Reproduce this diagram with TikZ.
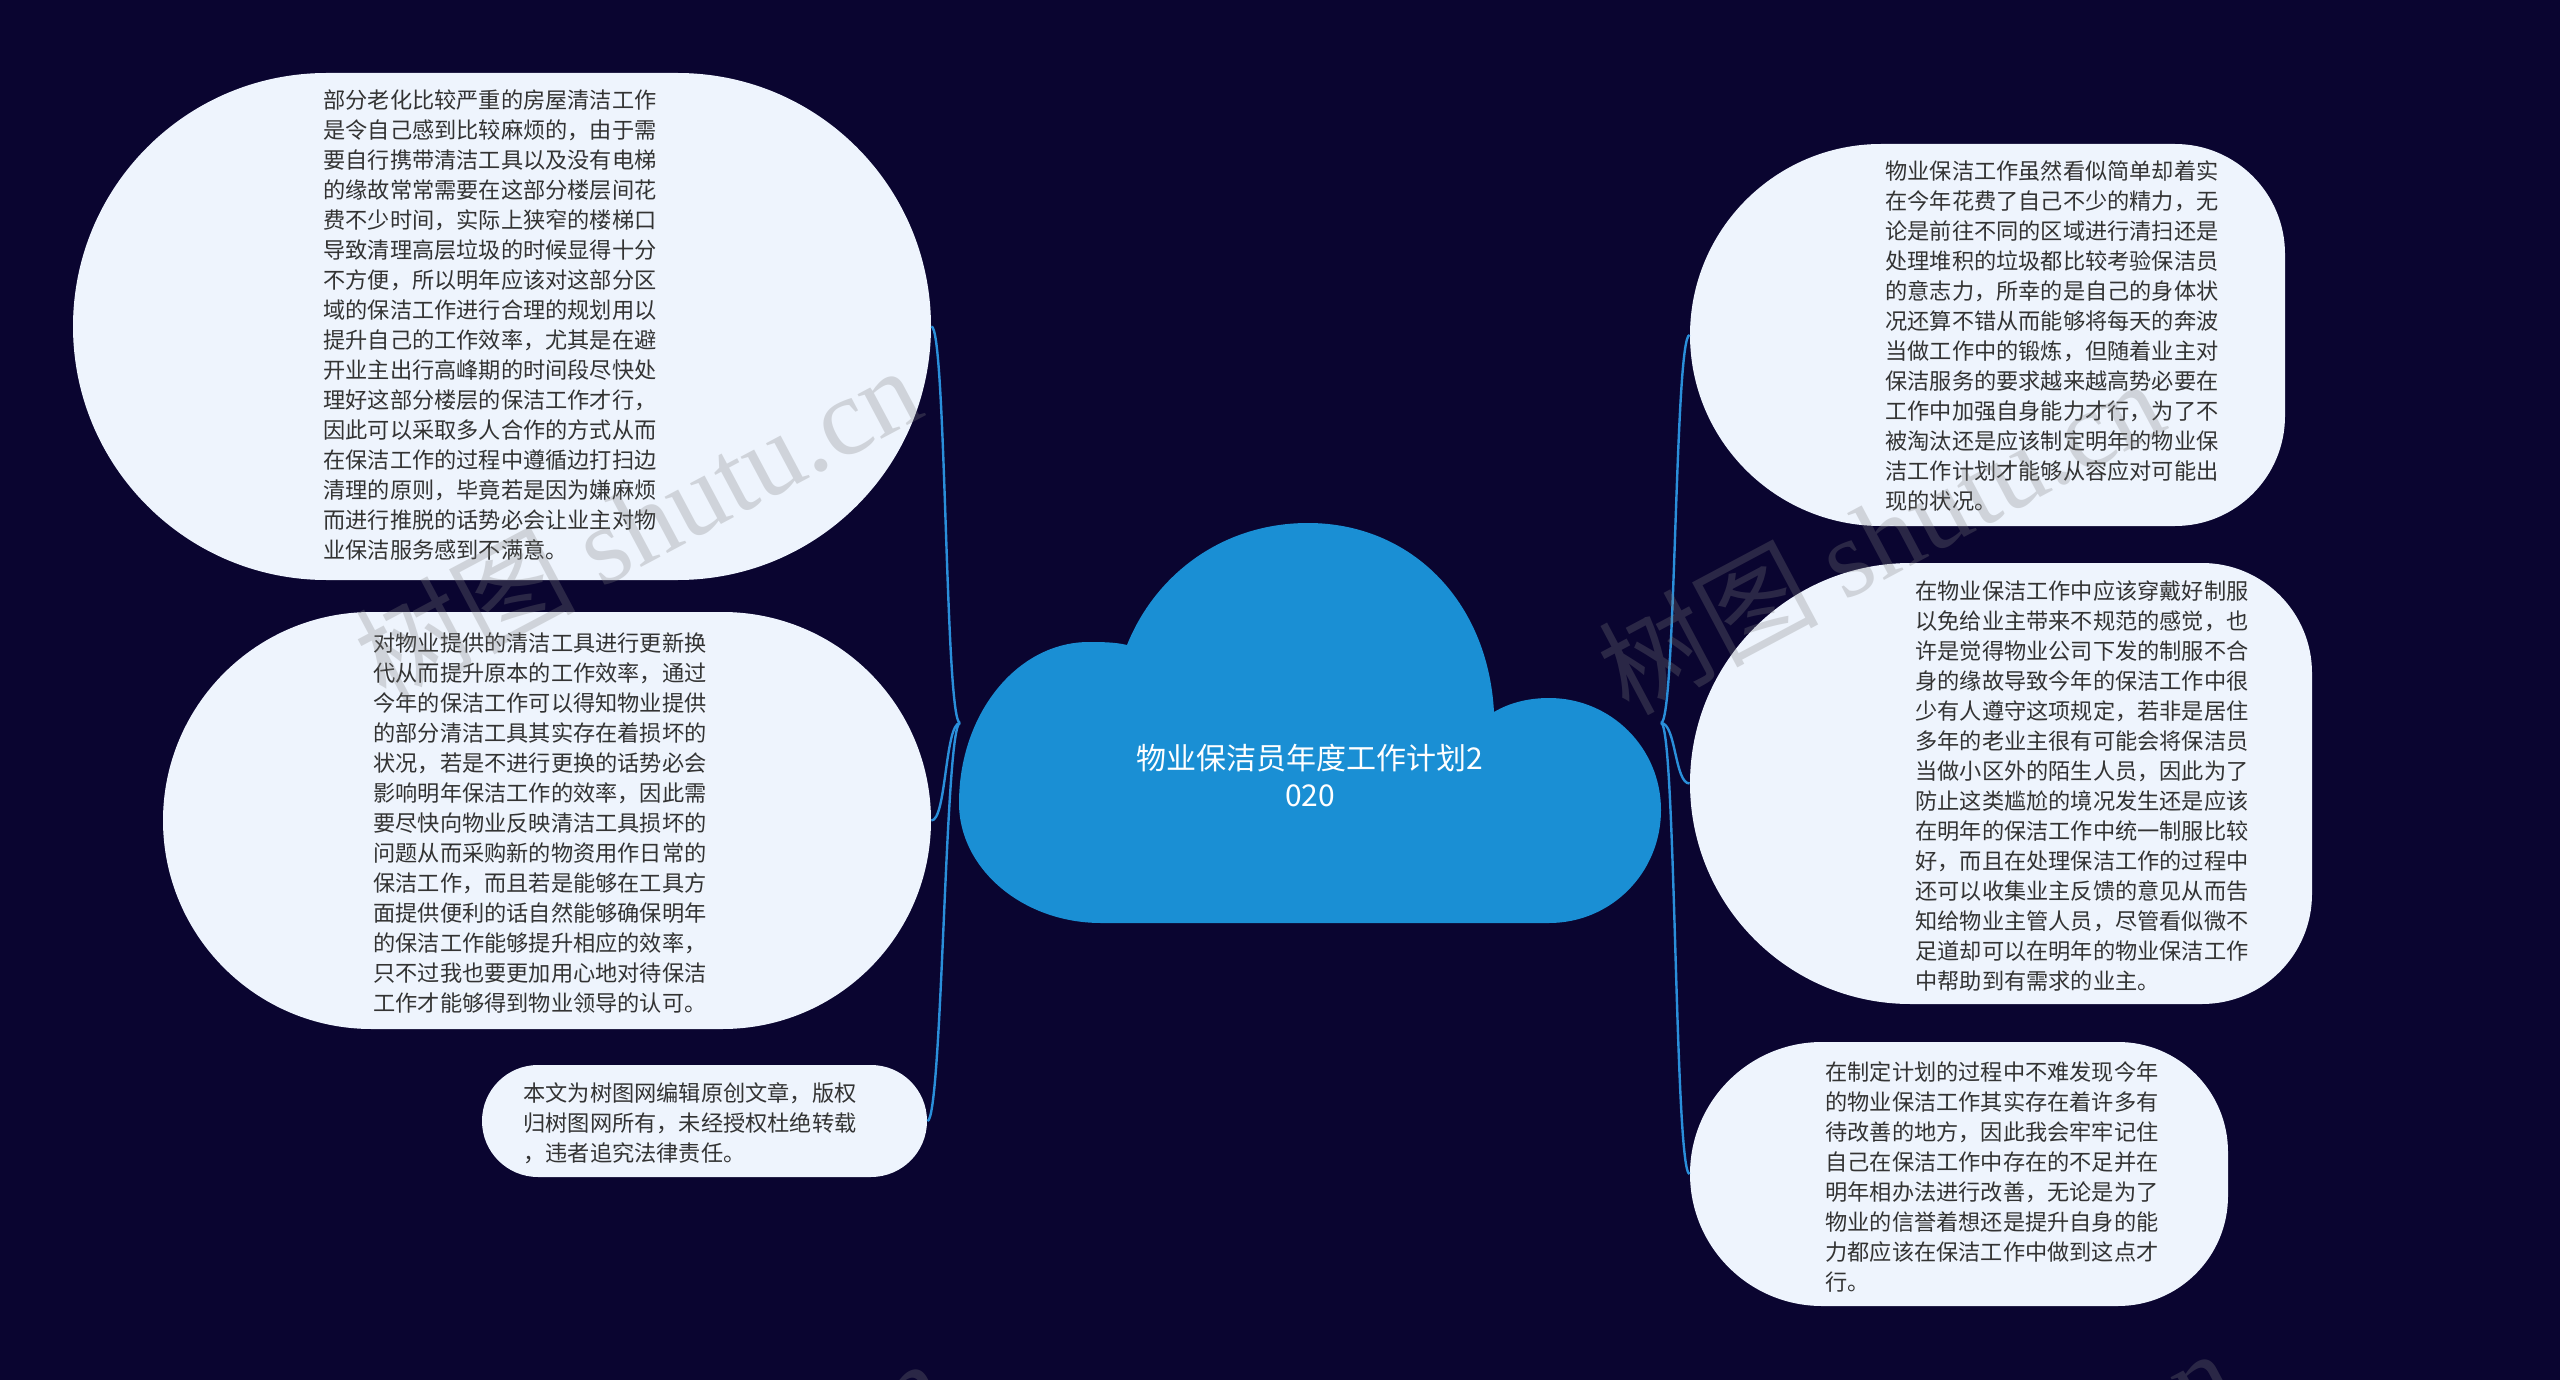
\documentclass[tikz,border=0pt]{standalone}
\usepackage{fontspec}
\setmainfont{Noto Sans CJK SC}
\newfontfamily\markfont{Liberation Serif}
\usepackage{tikz}
\usetikzlibrary{shapes.misc}
\definecolor{night}{HTML}{0A0530}
\definecolor{skyblue}{HTML}{1A8FD4}
\definecolor{linkblue}{HTML}{2A8FDA}
\definecolor{paleblue}{HTML}{EEF4FD}
\definecolor{inkgray}{HTML}{333333}
\tikzset{
    bubble/.style = {fill=paleblue, rounded rectangle, inner sep=0pt},
    card/.style = {rectangle, inner sep=0pt},
    bubble-text/.style = {text=inkgray, align=left, inner sep=0pt, font=\fontsize{11.1pt}{15pt}\selectfont},
    topic-text/.style = {text=white, align=center, inner sep=0pt, font=\fontsize{15pt}{18.5pt}\selectfont},
    link/.style = {draw=linkblue, line width=1.2pt},
    watermark/.style = {text=gray, opacity=0.28, rotate=28, inner sep=0pt, font=\fontsize{55pt}{60pt}\selectfont},
}
% west, top, east, bottom, right corner radius
\newcommand{\cardshape}[5]{%
  \fill[paleblue] ({#1+(#4-#2)/2},#2) -- ({#3-#5},#2)
    .. controls ({#3-0.448*#5},#2) and (#3,{#2+0.448*#5}) .. (#3,{#2+#5})
    -- (#3,{#4-#5})
    .. controls (#3,{#4-0.448*#5}) and ({#3-0.448*#5},#4) .. ({#3-#5},#4)
    -- ({#1+(#4-#2)/2},#4)
    .. controls ({#1+0.448*(#4-#2)/2},#4) and (#1,{#4-0.448*(#4-#2)/2}) .. (#1,{(#2+#4)/2})
    .. controls (#1,{#2+0.448*(#4-#2)/2}) and ({#1+0.448*(#4-#2)/2},#2) .. ({#1+(#4-#2)/2},#2) -- cycle;}

\begin{document}
\begin{tikzpicture}[x=0.5pt, y=-0.5pt]
\fill[night] (0,0) rectangle (2560,1380);
\useasboundingbox (0,0) rectangle (2560,1380);

% central cloud
\fill[skyblue] (1101,923) -- (1549,923)
    .. controls (1611,923) and (1661,873) .. (1661,810)
    .. controls (1661,748) and (1611,698) .. (1549,698)
    .. controls (1528,698) and (1509,703) .. (1494,712)
    .. controls (1488,600) and (1410,523) .. (1308,523)
    .. controls (1222,523) and (1155,575) .. (1127,645)
    .. controls (1115,642) and (1100,642) .. (1089,642)
    .. controls (1017,642) and (959,714) .. (959,803)
    .. controls (959,869) and (1023,923) .. (1101,923) -- cycle;
\node[topic-text] (root) at (1310,776) {物业保洁员年度工作计划2\\020};
\coordinate (root-w) at (960,723);
\coordinate (root-e) at (1661,723);

% left side
\node[bubble, minimum width=429pt, minimum height=253.5pt] (lt) at (502,326.5) {};
\node[bubble-text] (lt-text) at (490,325) {部分老化比较严重的房屋清洁工作\\是令自己感到比较麻烦的，由于需\\要自行携带清洁工具以及没有电梯\\的缘故常常需要在这部分楼层间花\\费不少时间，实际上狭窄的楼梯口\\导致清理高层垃圾的时候显得十分\\不方便，所以明年应该对这部分区\\域的保洁工作进行合理的规划用以\\提升自己的工作效率，尤其是在避\\开业主出行高峰期的时间段尽快处\\理好这部分楼层的保洁工作才行，\\因此可以采取多人合作的方式从而\\在保洁工作的过程中遵循边打扫边\\清理的原则，毕竟若是因为嫌麻烦\\而进行推脱的话势必会让业主对物\\业保洁服务感到不满意。};

\node[bubble, minimum width=384pt, minimum height=208.5pt] (lm) at (547,820.5) {};
\node[bubble-text] (lm-text) at (540,823) {对物业提供的清洁工具进行更新换\\代从而提升原本的工作效率，通过\\今年的保洁工作可以得知物业提供\\的部分清洁工具其实存在着损坏的\\状况，若是不进行更换的话势必会\\影响明年保洁工作的效率，因此需\\要尽快向物业反映清洁工具损坏的\\问题从而采购新的物资用作日常的\\保洁工作，而且若是能够在工具方\\面提供便利的话自然能够确保明年\\的保洁工作能够提升相应的效率，\\只不过我也要更加用心地对待保洁\\工作才能够得到物业领导的认可。};

\node[bubble, minimum width=222.5pt, minimum height=56pt] (lb) at (704.5,1121) {};
\node[bubble-text] (lb-text) at (690,1123) {本文为树图网编辑原创文章，版权\\归树图网所有，未经授权杜绝转载\\，违者追究法律责任。};

% right side
\cardshape{1690}{144}{2285}{526}{110}
\node[card, minimum width=297.5pt, minimum height=191pt] (rt) at (1987.5,335) {};
\node[bubble-text] (rt-text) at (2052,336) {物业保洁工作虽然看似简单却着实\\在今年花费了自己不少的精力，无\\论是前往不同的区域进行清扫还是\\处理堆积的垃圾都比较考验保洁员\\的意志力，所幸的是自己的身体状\\况还算不错从而能够将每天的奔波\\当做工作中的锻炼，但随着业主对\\保洁服务的要求越来越高势必要在\\工作中加强自身能力才行，为了不\\被淘汰还是应该制定明年的物业保\\洁工作计划才能够从容应对可能出\\现的状况。};

\cardshape{1690}{563}{2312}{1004}{110}
\node[card, minimum width=311pt, minimum height=220.5pt] (rm) at (2001,783.5) {};
\node[bubble-text] (rm-text) at (2082,786) {在物业保洁工作中应该穿戴好制服\\以免给业主带来不规范的感觉，也\\许是觉得物业公司下发的制服不合\\身的缘故导致今年的保洁工作中很\\少有人遵守这项规定，若非是居住\\多年的老业主很有可能会将保洁员\\当做小区外的陌生人员，因此为了\\防止这类尴尬的境况发生还是应该\\在明年的保洁工作中统一制服比较\\好，而且在处理保洁工作的过程中\\还可以收集业主反馈的意见从而告\\知给物业主管人员，尽管看似微不\\足道却可以在明年的物业保洁工作\\中帮助到有需求的业主。};

\cardshape{1690}{1042}{2228}{1306}{110}
\node[card, minimum width=269pt, minimum height=132pt] (rb) at (1959,1174) {};
\node[bubble-text] (rb-text) at (1992,1177) {在制定计划的过程中不难发现今年\\的物业保洁工作其实存在着许多有\\待改善的地方，因此我会牢牢记住\\自己在保洁工作中存在的不足并在\\明年相办法进行改善，无论是为了\\物业的信誉着想还是提升自身的能\\力都应该在保洁工作中做到这点才\\行。};

% links
\draw[link] (root-w) .. controls +(-15,0) and +(15,0) .. (lt.east);
\draw[link] (root-w) .. controls +(-15,0) and +(15,0) .. (lm.east);
\draw[link] (root-w) .. controls +(-15,0) and +(15,0) .. (lb.east);
\draw[link] (root-e) .. controls +(15,0) and +(-15,0) .. (rt.west);
\draw[link] (root-e) .. controls +(15,0) and +(-15,0) .. (rm.west);
\draw[link] (root-e) .. controls +(15,0) and +(-15,0) .. (rb.west);

% watermarks
\node[watermark] (mark-1) at (637,522) {树图 {\markfont shutu.cn}};
\node[watermark] (mark-2) at (1880,535) {树图 {\markfont shutu.cn}};
\node[watermark] (mark-3) at (661,1515) {树图 {\markfont shutu.cn}};
\node[watermark] (mark-4) at (1950,1505) {树图 {\markfont shutu.cn}};
\end{tikzpicture}
\end{document}
